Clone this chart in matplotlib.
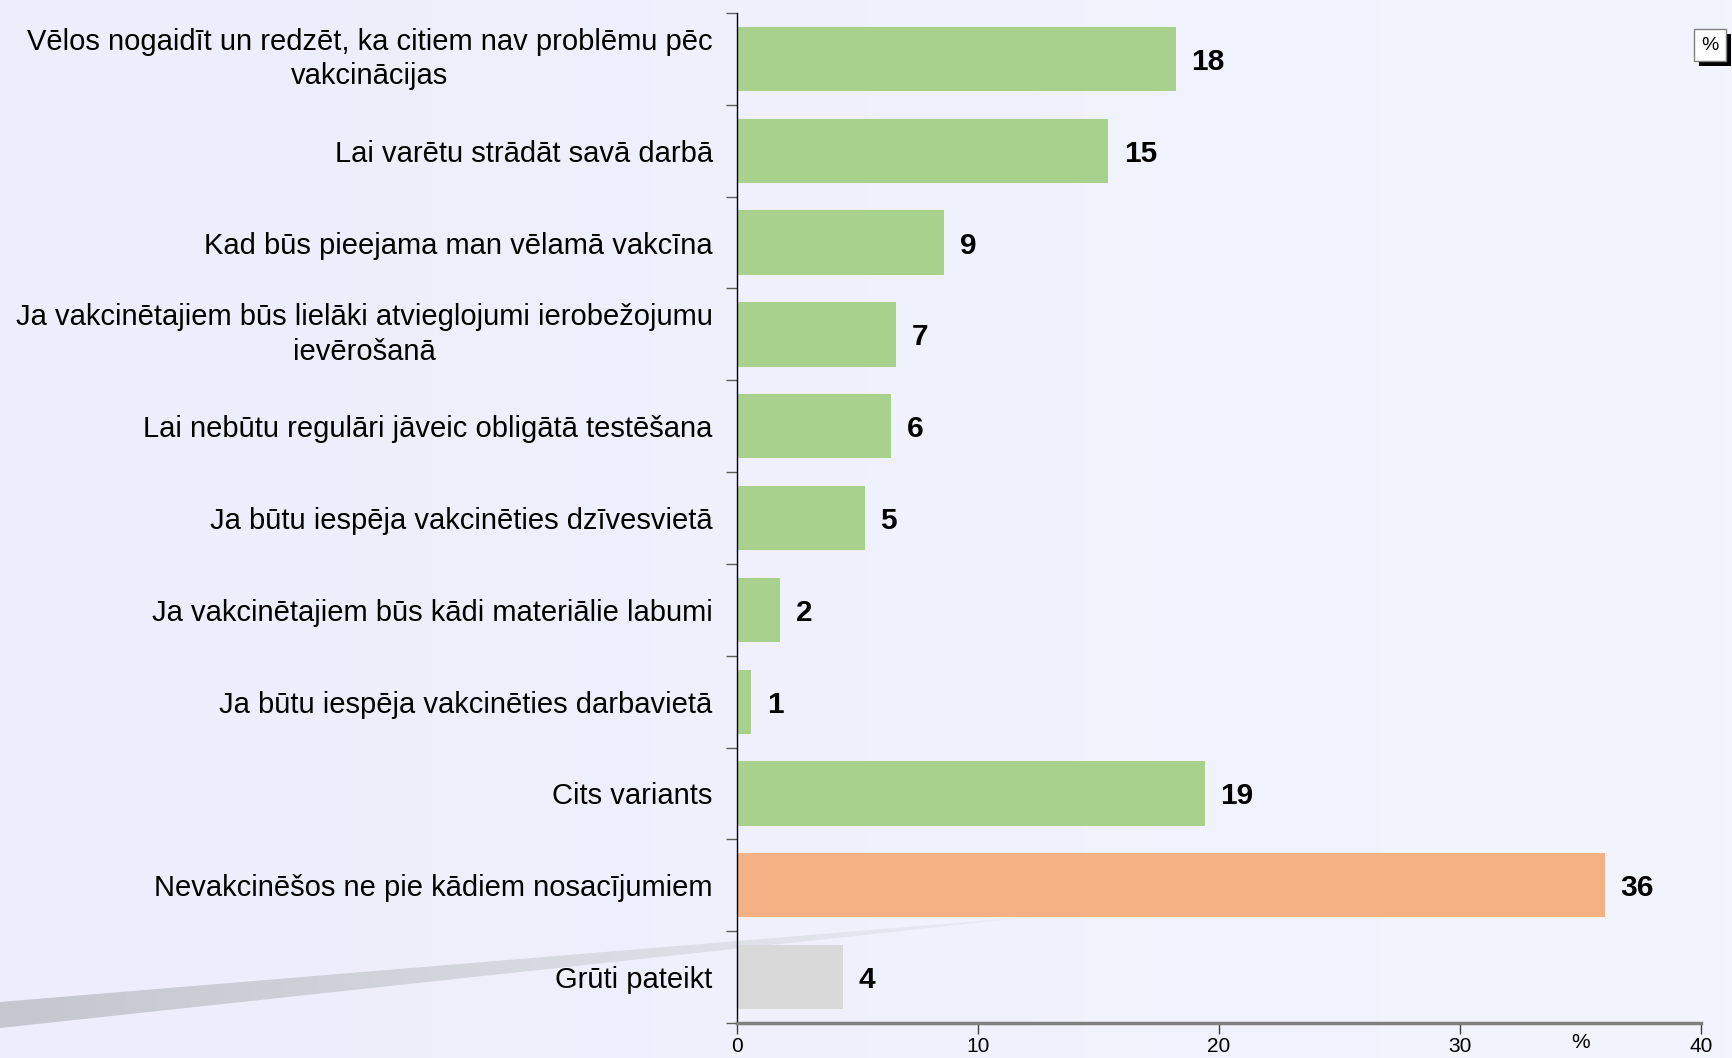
import numpy as np
from matplotlib import pyplot as plt
from matplotlib.colors import LinearSegmentedColormap
from matplotlib.patches import Polygon, Rectangle

categories = [
    "Vēlos nogaidīt un redzēt, ka citiem nav problēmu pēc\nvakcinācijas",
    "Lai varētu strādāt savā darbā",
    "Kad būs pieejama man vēlamā vakcīna",
    "Ja vakcinētajiem būs lielāki atvieglojumi ierobežojumu\nievērošanā",
    "Lai nebūtu regulāri jāveic obligātā testēšana",
    "Ja būtu iespēja vakcinēties dzīvesvietā",
    "Ja vakcinētajiem būs kādi materiālie labumi",
    "Ja būtu iespēja vakcinēties darbavietā",
    "Cits variants",
    "Nevakcinēšos ne pie kādiem nosacījumiem",
    "Grūti pateikt",
]
values = [18.2, 15.4, 8.6, 6.6, 6.4, 5.3, 1.8, 0.6, 19.4, 36.0, 4.4]
colors = ["#A9D18E"] * 9 + ["#F4B183", "#D9D9D9"]
xticks = [0, 10, 20, 30, 40]

W, H = 1733, 1058
fig = plt.figure(figsize=(W / 100, H / 100), dpi=100)

# background with a faint left-to-right gradient and the grey swoosh
bg = fig.add_axes([0, 0, 1, 1], zorder=0)
bg.set_xlim(0, W)
bg.set_ylim(H, 0)
bg.axis("off")
grad = np.linspace(0, 1, 256)[None, :]
bg.imshow(grad, extent=[0, W, H, 0], aspect="auto",
          cmap=LinearSegmentedColormap.from_list("bgc", ["#EDEDFB", "#F2F5FE"]))
swoosh = Polygon([(0, 1002), (1040, 916), (0, 1028)], closed=True,
                 facecolor="none", edgecolor="none")
bg.add_patch(swoosh)
sw = bg.imshow(grad, extent=[0, 1040, 1028, 916], aspect="auto",
               cmap=LinearSegmentedColormap.from_list(
                   "swc", ["#C4C6D0", "#CFD1DB", "#DCDEE8", "#EAECF6"]))
sw.set_clip_path(swoosh)

ax = fig.add_axes([737 / W, 1 - 1023 / H, (1701 - 737) / W, (1023 - 13) / H],
                  zorder=1)
ax.patch.set_alpha(0)

y = np.arange(len(categories))
ax.barh(y, values, height=0.7, color=colors)
ax.set_ylim(len(categories) - 0.5, -0.5)
ax.set_xlim(0, 40)

for yi, v in zip(y, values):
    ax.text(v + 0.65, yi, f"{v:.0f}", va="center_baseline", ha="left",
            fontsize=21.5, fontweight="bold", family="Liberation Sans")

# category names, right-aligned left of the axis
for yi, name in zip(y, categories):
    va = "center" if "\n" in name else "center_baseline"
    ax.annotate(name, xy=(0, yi), xycoords=ax.get_yaxis_transform(),
                xytext=(-17.5, 0), textcoords="offset points",
                ha="right", va=va, multialignment="center",
                linespacing=1.3, fontsize=21, family="Liberation Sans")

ax.set_yticks([])
ax.set_yticks(np.arange(-0.5, len(categories)), minor=True)
ax.tick_params(axis="y", which="minor", length=8, width=1, color="#606060")

ax.set_xticks(xticks)
ax.set_xticklabels([str(t) for t in xticks], fontsize=15,
                   family=["Liberation Sans Narrow", "Liberation Sans"])
ax.tick_params(axis="x", length=8, width=1, color="#404040", pad=2)

for s in ("top", "right"):
    ax.spines[s].set_visible(False)
ax.spines["left"].set_color("black")
ax.spines["left"].set_linewidth(1)
ax.spines["bottom"].set_color("#7F7F7F")
ax.spines["bottom"].set_linewidth(2.5)

ax.text(35, -0.010, "%", transform=ax.get_xaxis_transform(), ha="center",
        va="top", fontsize=15, family=["Liberation Sans Narrow", "Liberation Sans"])

# "%" unit box in the top right corner
bg.add_patch(Rectangle((1699, 34), 32, 32, facecolor="black", edgecolor="none"))
bg.add_patch(Rectangle((1694, 29), 32, 32, facecolor="white",
                       edgecolor="#808080", linewidth=1))
bg.text(1710, 45, "%", ha="center", va="center", fontsize=14,
        family="Liberation Sans")

plt.savefig("out.png", dpi=100)
